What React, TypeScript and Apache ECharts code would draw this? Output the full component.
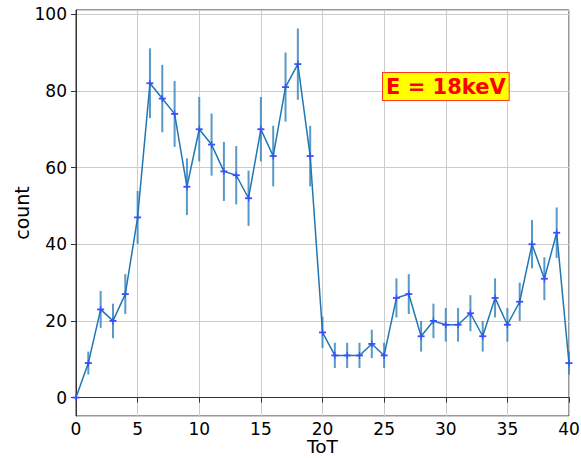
import { useEffect, useRef } from "react";
import * as echarts from "echarts";

const tot = [0, 1, 2, 3, 4, 5, 6, 7, 8, 9, 10, 11, 12, 13, 14, 15, 16, 17, 18, 19, 20, 21, 22, 23, 24, 25, 26, 27, 28, 29, 30, 31, 32, 33, 34, 35, 36, 37, 38, 39, 40];
const counts = [0, 9, 23, 20, 27, 47, 82, 78, 74, 55, 70, 66, 59, 58, 52, 70, 63, 81, 87, 63, 17, 11, 11, 11, 14, 11, 26, 27, 16, 20, 19, 19, 22, 16, 26, 19, 25, 40, 31, 43, 9];
const errors = [0, 3, 4.8, 4.5, 5.2, 6.9, 9.1, 8.8, 8.6, 7.4, 8.4, 8.1, 7.7, 7.6, 7.2, 8.4, 7.9, 9, 9.3, 7.9, 4.1, 3.3, 3.3, 3.3, 3.7, 3.3, 5.1, 5.2, 4, 4.5, 4.4, 4.4, 4.7, 4, 5.1, 4.4, 5, 6.3, 5.6, 6.6, 3];
const xRange = [0, 40];
const yRange = [-4.8, 101.1];
const annotation = "E = 18keV";

const FONT = "DejaVu Sans";

export default function App() {
  const ref = useRef<HTMLDivElement>(null);
  useEffect(() => {
    const chart = echarts.init(ref.current!, null, { renderer: "svg" });
    const pts = tot.map((x, i) => [x, counts[i], errors[i]]);
    chart.setOption({
      animation: false,
      backgroundColor: "#ffffff",
      textStyle: { fontFamily: FONT },
      grid: {
        left: 76,
        right: 12,
        top: 10,
        bottom: 42,
        show: true,
        borderColor: "#333",
        borderWidth: 1,
        backgroundColor: "transparent",
        containLabel: false,
        outerBoundsMode: "none",
      },
      xAxis: {
        type: "value",
        min: xRange[0],
        max: xRange[1],
        interval: 5,
        name: "ToT",
        nameLocation: "middle",
        nameGap: 23,
        nameMoveOverlap: false,
        nameTextStyle: { fontSize: 18.5, color: "#000", fontFamily: FONT, lineHeight: 15 },
        axisLine: { show: true, lineStyle: { color: "#333", width: 1 } },
        axisTick: { show: true, length: 5, lineStyle: { color: "#333" } },
        axisLabel: { fontSize: 17, color: "#000", margin: 5, fontFamily: FONT, lineHeight: 16 },
        splitLine: { show: true, lineStyle: { color: "#cccccc", width: 1 } },
      },
      yAxis: {
        type: "value",
        min: yRange[0],
        max: yRange[1],
        splitNumber: 5,
        name: "count",
        nameLocation: "middle",
        nameGap: 45,
        nameMoveOverlap: false,
        nameTextStyle: { fontSize: 19, color: "#000", fontFamily: FONT, lineHeight: 19 },
        axisLine: { show: true, lineStyle: { color: "#333", width: 1 } },
        axisTick: { show: true, length: 5, lineStyle: { color: "#333" } },
        axisLabel: {
          fontSize: 17,
          color: "#000",
          margin: 9,
          fontFamily: FONT,
          showMinLabel: false,
          showMaxLabel: false,
          formatter: (v: number) => (Math.abs(v % 20) < 1e-6 ? String(v) : ""),
        },
        splitLine: { show: true, lineStyle: { color: "#cccccc", width: 1 } },
      },
      series: [
        {
          type: "custom",
          z: 1,
          data: pts,
          renderItem: (params: any, api: any) => {
            const x = api.value(0);
            const y = api.value(1);
            const e = api.value(2);
            const p1 = api.coord([x, y - e]);
            const p2 = api.coord([x, y + e]);
            return {
              type: "line",
              shape: { x1: p1[0], y1: p1[1], x2: p2[0], y2: p2[1] },
              style: { stroke: "#3a87c0", lineWidth: 2, opacity: 0.85 },
            };
          },
        },
        {
          type: "line",
          z: 2,
          data: pts.map((p) => [p[0], p[1]]),
          symbol: "none",
          lineStyle: { color: "#1f77b4", width: 1.5 },
        },
        {
          type: "custom",
          z: 3,
          data: pts,
          renderItem: (params: any, api: any) => {
            const c = api.coord([api.value(0), api.value(1)]);
            const s = 3.5;
            return {
              type: "group",
              children: [
                {
                  type: "line",
                  shape: { x1: c[0] - s, y1: c[1], x2: c[0] + s, y2: c[1] },
                  style: { stroke: "#3c4cff", lineWidth: 1.8 },
                },
                {
                  type: "line",
                  shape: { x1: c[0], y1: c[1] - s, x2: c[0], y2: c[1] + s },
                  style: { stroke: "#3c4cff", lineWidth: 1.2 },
                },
              ],
            };
          },
        },
      ],
      graphic: [
        {
          type: "text",
          left: 382,
          top: 72,
          z: 10,
          style: {
            text: annotation,
            fontSize: 21,
            fontWeight: "bold",
            fontFamily: FONT,
            fill: "#ff0000",
            backgroundColor: "#ffff00",
            borderColor: "#ff3a1a",
            borderWidth: 1,
            padding: [3, 3, 2, 3],
            lineHeight: 22,
          },
        },
      ],
    });
    return () => chart.dispose();
  }, []);
  return (
    <div
      ref={ref}
      style={{ position: "absolute", left: 0, top: 0, width: 581, height: 458 }}
    />
  );
}
